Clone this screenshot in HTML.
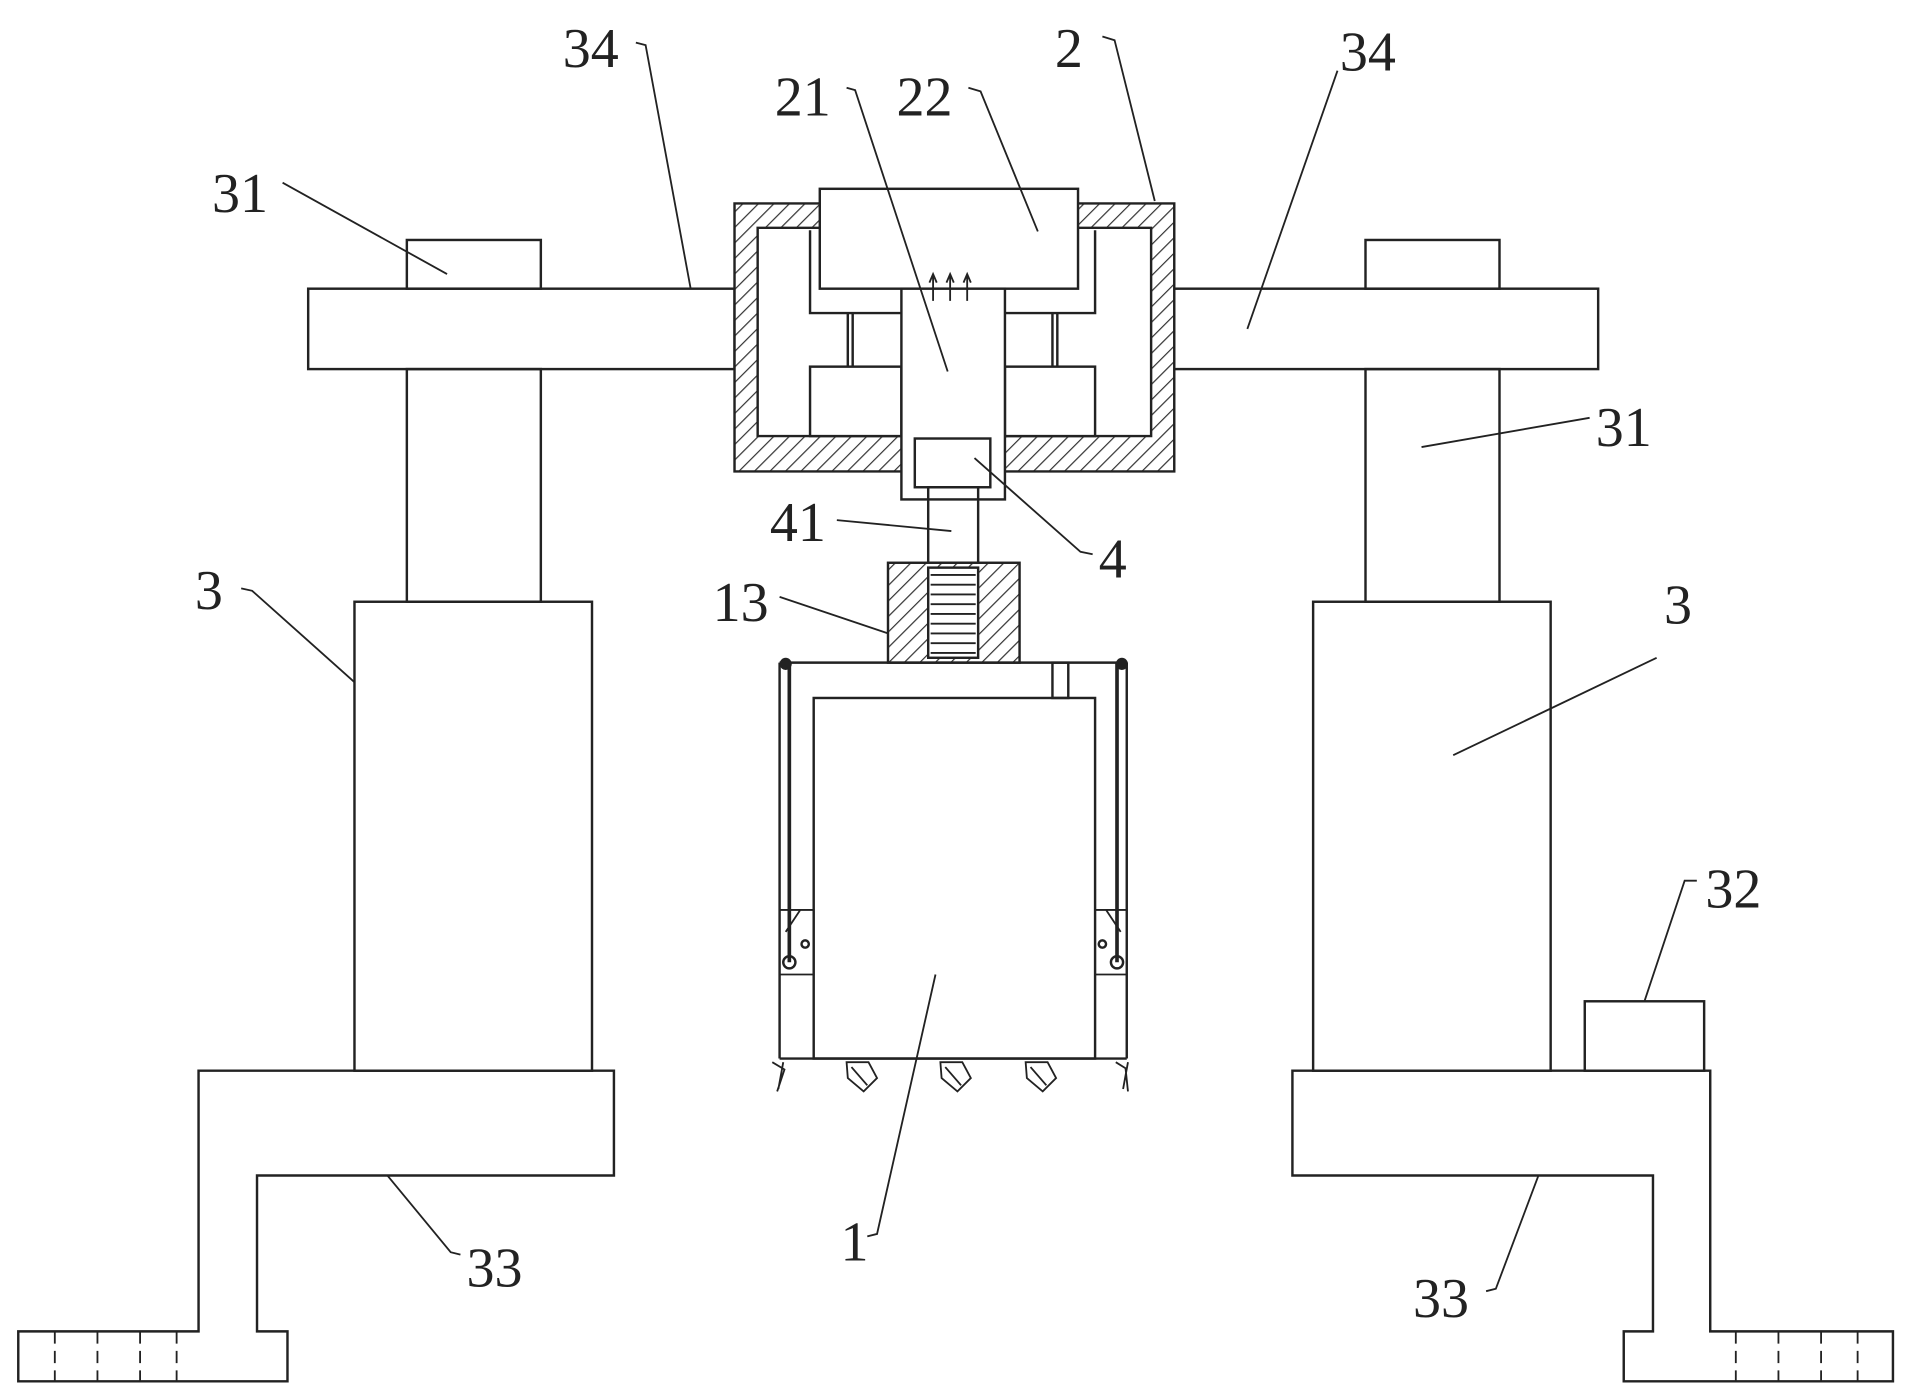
<!DOCTYPE html>
<html><head><meta charset="utf-8"><style>html,body{margin:0;padding:0;background:#fff}svg{display:block}</style></head>
<body>
<svg width="1910" height="1399" viewBox="0 0 1568 1148.5" preserveAspectRatio="none" xmlns="http://www.w3.org/2000/svg">
<defs>
<pattern id="h" patternUnits="userSpaceOnUse" width="9" height="9" patternTransform="rotate(45)">
<rect width="9" height="9" fill="#fff"/><line x1="0" y1="0" x2="0" y2="9" stroke="#333" stroke-width="2"/>
</pattern>
</defs>
<g fill="none" stroke="#222" stroke-width="2">
<rect x="253" y="237" width="350" height="66" fill="#fff"/>
<rect x="963" y="237" width="349" height="66" fill="#fff"/>
<rect x="334" y="197" width="110" height="40"/>
<rect x="1121" y="197" width="110" height="40"/>
<rect x="334" y="303" width="110" height="191"/>
<rect x="1121" y="303" width="110" height="191"/>
<rect x="291" y="494" width="195" height="385"/>
<rect x="1078" y="494" width="195" height="385"/>
<path d="M163 879H504V965H211V1093H236V1134H15V1093H163Z"/>
<path d="M1061 879H1404V1093H1554V1134H1333V1093H1357V965H1061Z"/>
<g stroke-dasharray="10 6" stroke-width="1.5">
<line x1="45" y1="1093" x2="45" y2="1134"/><line x1="80" y1="1093" x2="80" y2="1134"/><line x1="115" y1="1093" x2="115" y2="1134"/><line x1="145" y1="1093" x2="145" y2="1134"/>
<line x1="1425" y1="1093" x2="1425" y2="1134"/><line x1="1460" y1="1093" x2="1460" y2="1134"/><line x1="1495" y1="1093" x2="1495" y2="1134"/><line x1="1525" y1="1093" x2="1525" y2="1134"/>
</g>
<rect x="1301" y="822" width="98" height="57"/>
<path d="M603 167H964V387H603Z M622 187V358H945V187Z" fill="url(#h)" fill-rule="evenodd"/>
<rect x="673" y="155" width="212" height="82" fill="#fff"/>
<path d="M665 189V257H740 M899 189V257H825"/>
<rect x="665" y="301" width="75" height="57" fill="#fff"/>
<rect x="825" y="301" width="74" height="57" fill="#fff"/>
<path d="M696 257V301M700 257V301M864 257V301M868 257V301"/>
<rect x="740" y="237" width="85" height="173" fill="#fff"/>
<rect x="751" y="360" width="62" height="40"/>
<path d="M766 247V227M763 232L766 225L769 232M780 247V227M777 232L780 225L783 232M794 247V227M791 232L794 225L797 232" stroke-width="1.5"/>
<rect x="762" y="400" width="41" height="62"/>
<rect x="729" y="462" width="108" height="82" fill="url(#h)"/>
<rect x="762" y="466" width="41" height="74" fill="#fff"/>
<path d="M764 472H801M764 480H801M764 488H801M764 496H801M764 504H801M764 512H801M764 520H801M764 528H801M764 536H801" stroke-width="1.5"/>
<path d="M640 544H925M640 544V869M925 544V869M640 869H925"/>
<rect x="668" y="573" width="231" height="296"/>
<rect x="864" y="544" width="13" height="29"/>
<path d="M648 544V790M917 544V790" stroke-width="3"/>
<circle cx="645" cy="545" r="4" fill="#222"/><circle cx="921" cy="545" r="4" fill="#222"/>
<path d="M640 747H668V800H640M657 747L645 765M925 747H899V800H925M908 747L920 765" stroke-width="1.5"/>
<circle cx="648" cy="790" r="5"/><circle cx="917" cy="790" r="5"/><circle cx="661" cy="775" r="3"/><circle cx="905" cy="775" r="3"/>
<g stroke-width="1.5">
<path d="M634 872l10 6l-6 18M643 872l-4 22"/>
<path d="M695 872h18l7 13l-11 11l-13-11z M699 876l13 15"/>
<path d="M772 872h18l7 13l-11 11l-13-11z M776 876l13 15"/>
<path d="M842 872h18l7 13l-11 11l-13-11z M846 876l13 15"/>
<path d="M916 872l8 5l2 19M926 872l-4 22"/>
</g>
<g stroke-width="1.5">
<path d="M522 35L530 37L567 237"/>
<path d="M905 30L915 33L948 165"/>
<path d="M1098 58L1024 270"/>
<path d="M695 72L702 74L778 305"/>
<path d="M795 72L805 75L852 190"/>
<path d="M232 150L367 225"/>
<path d="M1305 343L1167 367"/>
<path d="M198 483L207 485L291 560"/>
<path d="M1360 540L1193 620"/>
<path d="M687 427L781 436"/>
<path d="M897 455L887 453L800 376"/>
<path d="M640 490L729 520"/>
<path d="M712 1015L720 1013L768 800"/>
<path d="M378 1030L370 1028L318 965"/>
<path d="M1220 1060L1228 1058L1263 965"/>
<path d="M1393 723L1383 723L1350 822"/>
</g>
</g>
<g font-family="'Liberation Serif',serif" font-size="46" fill="#222">
<text x="462" y="55">34</text>
<text x="866" y="55">2</text>
<text x="1100" y="58">34</text>
<text x="636" y="95">21</text>
<text x="736" y="95">22</text>
<text x="174" y="174">31</text>
<text x="1310" y="366">31</text>
<text x="160" y="500">3</text>
<text x="1366" y="512">3</text>
<text x="632" y="444">41</text>
<text x="902" y="474">4</text>
<text x="585" y="510">13</text>
<text x="690" y="1035">1</text>
<text x="383" y="1056">33</text>
<text x="1160" y="1081">33</text>
<text x="1400" y="745">32</text>
</g>
</svg>
</body></html>
